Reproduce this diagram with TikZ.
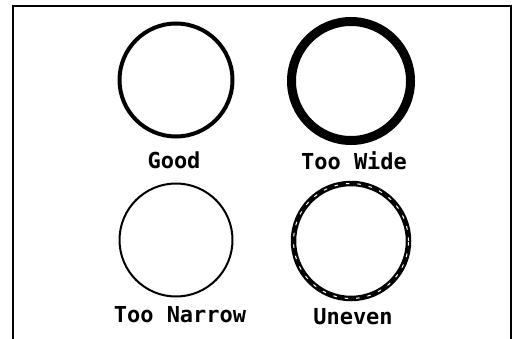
\documentclass[tikz,border=0pt]{standalone}
\usepackage{fontspec}
\setmainfont{DejaVu Sans Mono}
\tikzset{
  ring/.style={draw, circle, inner sep=0pt, minimum size=#1},
  caption/.style={font=\fontsize{22}{26}\selectfont\bfseries, inner sep=0pt}
}

\begin{document}
\begin{tikzpicture}[x=1pt,y=-1pt]
    \useasboundingbox (0,0) rectangle (518,339);

    % Frame (open at the bottom)
    \draw[line width=2pt] (13,339) -- (13,6) -- (511,6) -- (511,339);

    % Good
    \node[ring=113pt, line width=4pt] (good) at (176,80) {};
    \node[caption] (goodtxt) at (174,160) {Good};

    % Too wide
    \node[ring=119pt, line width=9pt] (wide) at (351,81) {};
    \node[caption] (widetxt) at (354,161) {Too Wide};

    % Too narrow
    \node[ring=113pt, line width=2pt] (narrow) at (176,240) {};
    \node[caption] (narrowtxt) at (180,315) {Too Narrow};

    % Uneven
    \node[ring=115pt, line width=5.5pt] (uneven) at (351,241) {};
    \node[ring=115pt, line width=1pt, white, dash pattern=on 3.5pt off 8pt] (unevenmid) at (351,241) {};
    \node[caption] (uneventxt) at (353,317) {Uneven};

\end{tikzpicture}
\end{document}
